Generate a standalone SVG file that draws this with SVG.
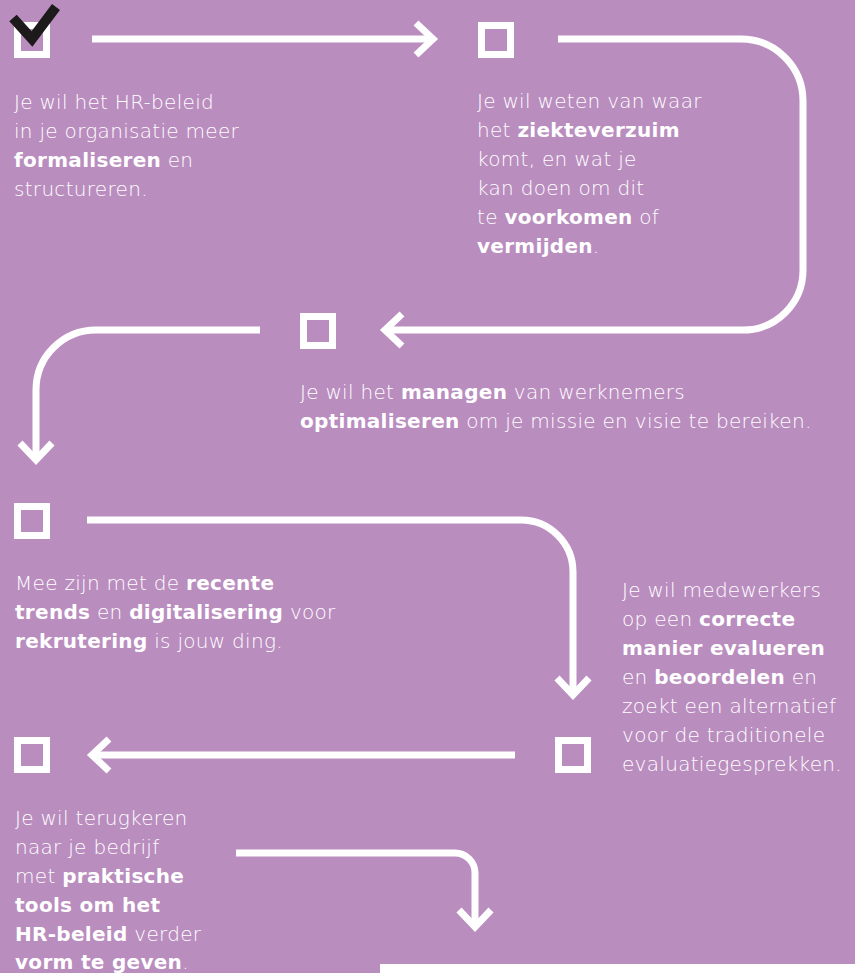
<svg xmlns="http://www.w3.org/2000/svg" width="855" height="973" viewBox="0 0 855 973">
<style>
.bg{fill:#ba8dbf}
.box{fill:none;stroke:#fff;stroke-width:7}
.con{fill:none;stroke:#fff;stroke-width:7}
.t{fill:#fff;font-family:"DejaVu Sans","Open Sans",sans-serif;font-size:20px;font-weight:300;letter-spacing:0.3px}
.b{font-weight:700}
.chk{fill:none;stroke:#1c1a1b;stroke-width:10;stroke-linejoin:miter}
</style>
<defs>
<marker id="chev" markerUnits="userSpaceOnUse" viewBox="-26 -22 32 44" refX="0" refY="0" markerWidth="32" markerHeight="44" orient="auto" overflow="visible">
<path d="M-17,-16 L0,0 L-17,16" fill="none" stroke="#fff" stroke-width="7"/>
</marker>
</defs>
<rect class="bg" x="0" y="0" width="855" height="973"/>
<g id="connectors">
<path class="con" d="M92,39 H433" marker-end="url(#chev)"/>
<path class="con" d="M558,39 H741 A62,62 0 0 1 803,101 V270 A60,60 0 0 1 743,330 H385" marker-end="url(#chev)"/>
<path class="con" d="M260,330 H96 A60,60 0 0 0 36,390 V460" marker-end="url(#chev)"/>
<path class="con" d="M87,520 H521 A52,52 0 0 1 573,572 V695" marker-end="url(#chev)"/>
<path class="con" d="M515,755 H92" marker-end="url(#chev)"/>
<path class="con" d="M236,853 H455 A20,20 0 0 1 475,873 V927" marker-end="url(#chev)"/>
</g>
<g id="node1">
<rect class="box" x="17.5" y="25.5" width="29" height="29"/>
<polyline class="chk" points="13,18 32,39 56,7"/>
<text class="t"><tspan x="14" y="109">Je wil het HR-beleid</tspan><tspan x="14" y="138">in je organisatie meer</tspan><tspan x="14" y="167"><tspan class="b">formaliseren</tspan> en</tspan><tspan x="14" y="196">structureren.</tspan></text>
</g>
<g id="node2">
<rect class="box" x="481.5" y="25.5" width="29" height="29"/>
<text class="t"><tspan x="477" y="108">Je wil weten van waar</tspan><tspan x="477" y="137">het <tspan class="b">ziekteverzuim</tspan></tspan><tspan x="477" y="166">komt, en wat je</tspan><tspan x="477" y="195">kan doen om dit</tspan><tspan x="477" y="224">te <tspan class="b">voorkomen</tspan> of</tspan><tspan x="477" y="253"><tspan class="b">vermijden</tspan>.</tspan></text>
</g>
<g id="node3">
<rect class="box" x="303.5" y="316.5" width="29" height="29"/>
<text class="t"><tspan x="300" y="399">Je wil het <tspan class="b">managen</tspan> van werknemers</tspan><tspan x="300" y="428"><tspan class="b">optimaliseren</tspan> om je missie en visie te bereiken.</tspan></text>
</g>
<g id="node4">
<rect class="box" x="17.5" y="506.5" width="29" height="29"/>
<text class="t"><tspan x="15" y="590">Mee zijn met de <tspan class="b">recente</tspan></tspan><tspan x="15" y="619"><tspan class="b">trends</tspan> en <tspan class="b">digitalisering</tspan> voor</tspan><tspan x="15" y="648"><tspan class="b">rekrutering</tspan> is jouw ding.</tspan></text>
</g>
<g id="node5">
<rect class="box" x="558.5" y="740.5" width="29" height="29"/>
<text class="t"><tspan x="622" y="597">Je wil medewerkers</tspan><tspan x="622" y="626">op een <tspan class="b">correcte</tspan></tspan><tspan x="622" y="655"><tspan class="b">manier evalueren</tspan></tspan><tspan x="622" y="684">en <tspan class="b">beoordelen</tspan> en</tspan><tspan x="622" y="713">zoekt een alternatief</tspan><tspan x="622" y="742">voor de traditionele</tspan><tspan x="622" y="771">evaluatiegesprekken.</tspan></text>
</g>
<g id="node6">
<rect class="box" x="17.5" y="740.5" width="29" height="29"/>
<text class="t"><tspan x="15" y="825">Je wil terugkeren</tspan><tspan x="15" y="854">naar je bedrijf</tspan><tspan x="15" y="883">met <tspan class="b">praktische</tspan></tspan><tspan x="15" y="912"><tspan class="b">tools om het</tspan></tspan><tspan x="15" y="941"><tspan class="b">HR-beleid</tspan> verder</tspan><tspan x="15" y="969"><tspan class="b">vorm te geven</tspan>.</tspan></text>
</g>
<rect id="bottom-bar" x="380" y="964" width="475" height="9" fill="#fff"/>
</svg>
